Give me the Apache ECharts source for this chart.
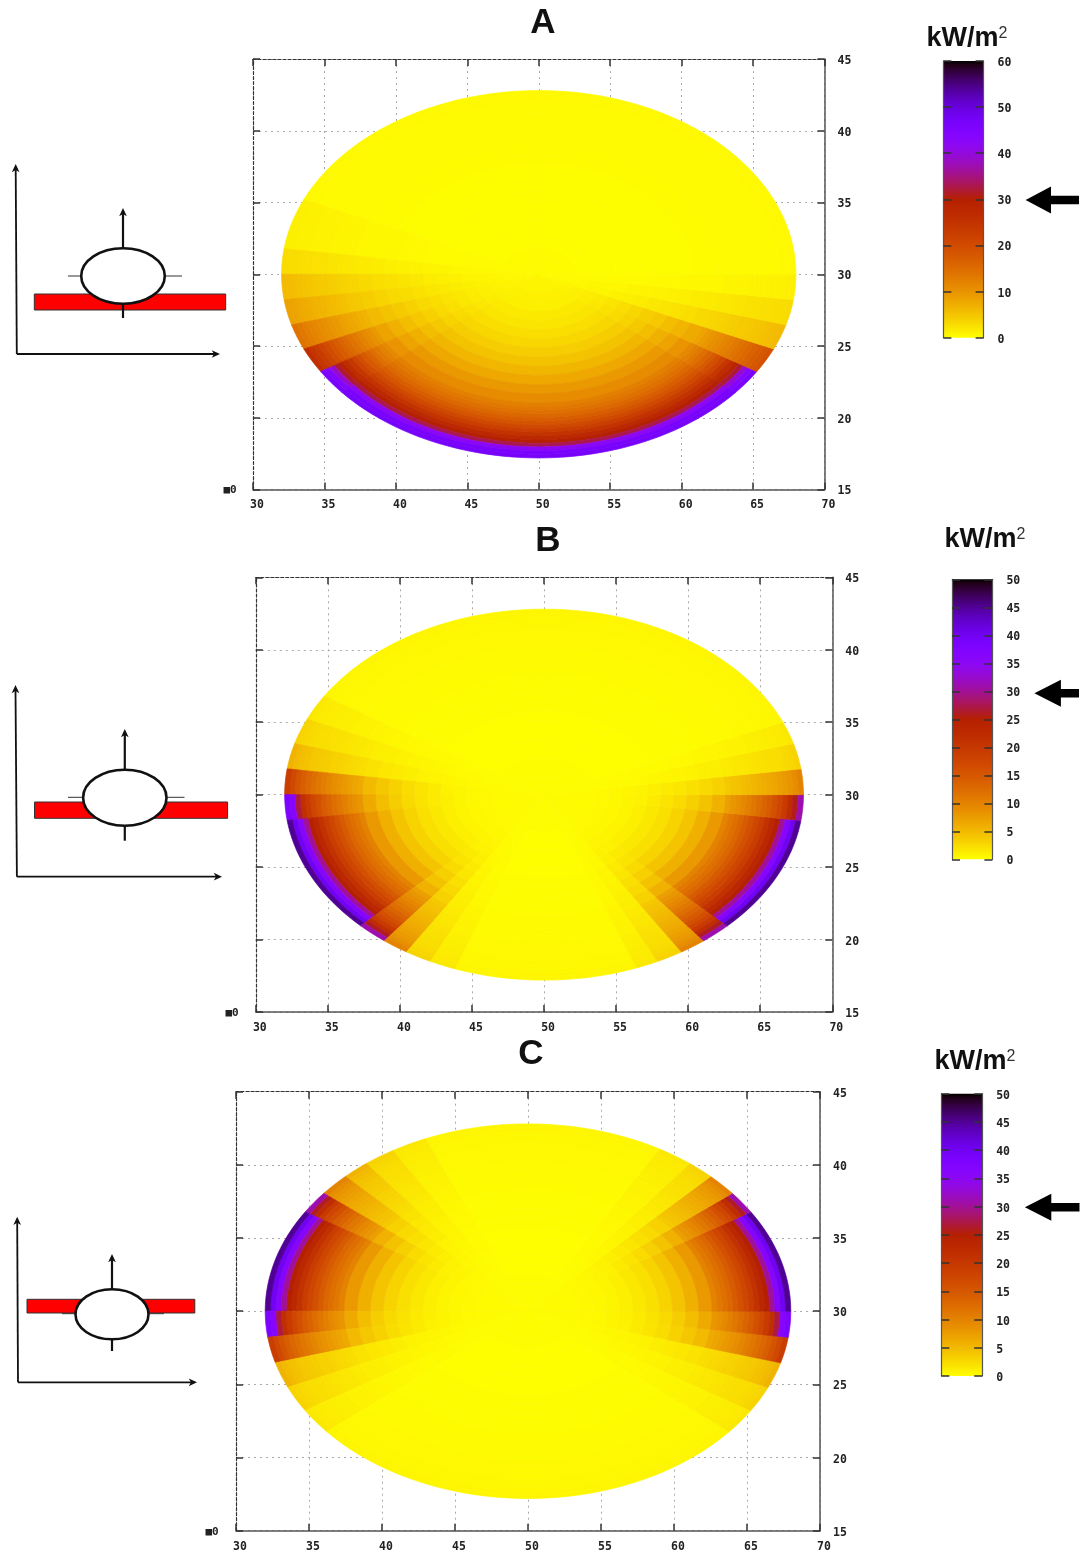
<!DOCTYPE html>
<html><head><meta charset="utf-8">
<style>html,body{margin:0;padding:0;background:#fff}#c{width:1083px;height:1555px}</style>
<script src="https://cdn.jsdelivr.net/npm/echarts@6/dist/echarts.min.js"></script>
</head><body><div id="c"></div>
<script>
// ---------- data ----------
const xTicks = [30,35,40,45,50,55,60,65,70];
const yTicks = [15,20,25,30,35,40,45];
const ringEdges = [0,.05,.1,.15,.2,.25,.3,.35,.4,.45,.5,.55,.6,.65,.7,.72,.74,.76,.78,.8,.82,.84,.86,.88,.9,.92,.94,.96,.98,1];
// flux (kW/m2) per ring, inner to wall
const fluxA = [
 [.8,.9,1.1,1.3,1.7,2.1,2.7,3.4,4.2,5.2,6.4,7.8,9.3,11,12.4,13.3,14.3,15.5,17,18.5,20.5,22.5,25,27.5,30,33,42,46,47],
 [.8,.9,1,1.2,1.5,1.9,2.4,3,3.7,4.6,5.7,7,8.4,10,11.4,12.3,13.3,14.5,16,17.5,19.5,21.5,24,26.5,29,32,39,44,46],
 [.7,.8,.9,1.1,1.3,1.6,2,2.5,3.1,3.8,4.7,5.7,6.9,8.3,9.5,10.3,11.1,12,13,14,15,16,17.2,18.5,20,21.5,23,24.5,26],
 [.6,.7,.8,1,1.2,1.5,1.8,2.2,2.7,3.2,3.8,4.5,5.2,6,6.6,7,7.4,7.9,8.3,8.8,9.3,9.8,10.3,10.8,11.3,11.9,12.5,13.2,14],
 [.5,.6,.7,.8,1,1.2,1.4,1.7,2,2.4,2.8,3.2,3.7,4.2,4.6,4.8,5,5.3,5.5,5.8,6.1,6.3,6.6,6.9,7.2,7.5,7.8,8.2,8.5],
 [.5,.5,.6,.7,.8,.9,1.1,1.3,1.5,1.8,2.1,2.4,2.7,3.1,3.4,3.5,3.7,3.8,4,4.2,4.4,4.5,4.7,4.9,5.1,5.3,5.5,5.8,6],
 [.5,.5,.5,.5,.6,.6,.7,.8,.9,1,1.1,1.3,1.4,1.6,1.7,1.8,1.9,2,2.1,2.2,2.3,2.4,2.4,2.5,2.6,2.7,2.8,2.9,3],
 [.4,.4,.4,.3,.3,.3,.3,.4,.4,.5,.5,.6,.6,.7,.7,.8,.8,.8,.9,.9,1,1,1,1,1.1,1.1,1.1,1.2,1.2],
 [.4,.3,.3,.2,.2,.2,.2,.2,.2,.2,.2,.2,.3,.3,.3,.3,.3,.3,.3,.3,.4,.4,.4,.4,.4,.4,.5,.5,.5],
 [.7,.8,.9,1.1,1.4,1.7,2.2,2.7,3.3,4,4.7,5.6,6.5,7.6,8.4,9,9.6,10.3,11,11.7,12.4,13.1,13.9,14.7,15.5,16.3,17.1,18,19]
];
const fluxBC = [
 [.3,.3,.3,.3,.4,.5,.7,1,1.5,2.1,3,4.2,5.8,7.8,10,11,12,13,14.5,16,17.5,19,21,23,25,30,36,40,45],
 [.3,.3,.3,.3,.4,.5,.7,1,1.4,1.9,2.6,3.5,4.7,6.3,8,8.7,9.5,10.3,11.2,12.2,13.3,14.5,16,17.5,19.5,21.5,27,36,38],
 [.3,.3,.3,.3,.4,.5,.7,.9,1.3,1.8,2.5,3.3,4.3,5.7,7.3,8,8.7,9.5,10.3,11.2,12.2,13.3,14.5,16,17.5,19.5,22,26,31],
 [.3,.3,.3,.3,.4,.5,.7,.9,1.3,1.8,2.4,3.1,4,5,6.3,6.8,7.3,7.8,8.4,9,9.7,10.4,11.2,12,13,14,15.4,17,19],
 [.3,.3,.3,.3,.4,.5,.6,.8,1,1.3,1.7,2.1,2.6,3.2,3.9,4.2,4.4,4.7,5,5.3,5.6,6,6.4,6.8,7.2,7.7,8.2,9,10],
 [.2,.2,.2,.3,.3,.4,.5,.6,.7,.9,1.1,1.3,1.6,1.9,2.3,2.4,2.6,2.7,2.9,3.1,3.2,3.4,3.6,3.8,4,4.3,4.6,5,5.5],
 [.2,.2,.2,.2,.2,.3,.3,.4,.5,.6,.7,.8,1,1.1,1.3,1.4,1.5,1.6,1.7,1.8,1.9,2,2.1,2.2,2.3,2.4,2.6,2.8,3],
 [.2,.2,.2,.2,.2,.2,.2,.3,.3,.3,.4,.4,.5,.6,.7,.7,.8,.8,.9,.9,1,1,1.1,1.1,1.2,1.2,1.3,1.4,1.5],
 [.2,.2,.2,.2,.1,.1,.1,.1,.1,.2,.2,.2,.2,.3,.3,.3,.3,.3,.3,.4,.4,.4,.4,.4,.5,.5,.5,.6,.6]
];
// sectors: start angle, end angle (degrees around the ellipse), row of the flux table
const sectorsA = [[90,156,8],[156,172,7],[172,180,6],[180,188,5],[188,196,4],[196,204,3],[204,212,2],[212,220,1],[220,320,0],[320,328,1],[328,336,9],[336,344,5],[344,352,6],[352,360,7],[360,450,8]];
const sectorsB = [[90,148,8],[148,156,7],[156,164,6],[164,172,5],[172,180,3],[180,188,1],[188,225,0],[225,232,2],[232,238,4],[238,244,6],[244,250,7],[250,291,8],[291,296,7],[296,302,6],[302,308,4],[308,315,2],[315,352,0],[352,360,2],[360,368,4],[368,376,6],[376,383,7],[383,450,8]];
const sectorsC = [[90,113,8],[113,121,7],[121,128,6],[128,134,5],[134,141,4],[141,148,2],[148,180,0],[180,188,1],[188,196,3],[196,204,5],[204,212,6],[212,220,7],[220,320,8],[320,328,7],[328,336,6],[336,344,5],[344,352,3],[352,360,1],[360,392,0],[392,399,2],[399,406,4],[406,412,6],[412,420,7],[420,450,8]];
const barTicksA = [0,10,20,30,40,50,60];
const barTicksBC = [0,5,10,15,20,25,30,35,40,45,50];
const ellipse = {cx:50, cy:30, a:18, b:12.8};

const panels = [
 {name:'A', flux:fluxA, sectors:sectorsA, max:60, tick:10, rect:[253,59,571.5,430.5], bar:[943.4,61,40.2,276.7], letter:[543,23], unit:[967,39], mark:[230,490],
  scheme:{vx0:15.7,vy0:164,vx1:16.8,vy1:354,hx1:220,cx:123,cy:276,rx:41.8,ry:27.8,upTop:208,downEnd:318,lx0:68,rx1:182,ly:276,bar:[34.3,294,191.4,16]}, arrow:[1025.6,1051,1079,200]},
 {name:'B', flux:fluxBC, sectors:sectorsB, max:50, tick:5, rect:[255.8,577.3,576.5,434.7], bar:[952,579.3,40.4,280], letter:[548,541], unit:[985,540], mark:[232,1013],
  scheme:{vx0:15.5,vy0:685,vx1:16.9,vy1:876.7,hx1:222,cx:124.8,cy:797.7,rx:41.7,ry:28,upTop:729,downEnd:840.7,lx0:68,rx1:184.5,ly:797.3,bar:[34.5,802,193.1,16.3]}, arrow:[1034.4,1060.9,1079,693.3]},
 {name:'C', flux:fluxBC, sectors:sectorsC, max:50, tick:5, rect:[236,1091.7,584,439], bar:[941.3,1093.7,40.9,282.3], letter:[531,1054], unit:[975,1061.7], mark:[212,1531.7],
  scheme:{vx0:17.2,vy0:1216.7,vx1:18,vy1:1382.3,hx1:197,cx:112,cy:1314.3,rx:36.5,ry:25,upTop:1254,downEnd:1351,lx0:62,rx1:164,ly:1313.7,bar:[27,1299.3,167.8,13.7]}, arrow:[1024.9,1051.3,1079.5,1207.3]}
];

// gnuplot-style palette, stops from low to high flux
function paletteStop(f){
  const x = 1 - f, r = Math.sqrt(x), g = x*x*x, b = Math.max(0, Math.sin(2*Math.PI*x));
  return 'rgb(' + Math.round(r*255) + ',' + Math.round(g*255) + ',' + Math.round(b*255) + ')';
}
const paletteColors = []; for (let i=0;i<=80;i++) paletteColors.push(paletteStop(i/80));

const MONO = '"DejaVu Sans Mono"';
const labelStyle = {fontFamily:MONO, fontWeight:'bold', fontSize:11.5, color:'#222'};
const tickStyle = {color:'#333', width:1.5};
const grids=[], xAxes=[], yAxes=[], series=[], visualMaps=[], graphics=[];

function renderCell(params, api){
  const t0=api.value(0), t1=api.value(1), r0=api.value(2), r1=api.value(3);
  const pts=[], n=Math.max(1,Math.ceil((t1-t0)/2));
  const at=(r,t)=>api.coord([ellipse.cx+ellipse.a*r*Math.cos(t*Math.PI/180), ellipse.cy+ellipse.b*r*Math.sin(t*Math.PI/180)]);
  for(let i=0;i<=n;i++) pts.push(at(r1,t0+(t1-t0)*i/n));
  for(let i=n;i>=0;i--) pts.push(at(r0,t0+(t1-t0)*i/n));
  const col=api.visual('color');
  return {type:'polygon', shape:{points:pts}, style:{fill:col, stroke:col, lineWidth:0.7}};
}
function renderBar(max, colors){
  return function(params, api){
    const a=api.coord([0,api.value(0)]), b=api.coord([1,api.value(1)]);
    const stops=colors.map((c,i)=>({offset:1-i/(colors.length-1), color:c}));
    return {type:'rect', shape:{x:a[0], y:b[1], width:b[0]-a[0], height:a[1]-b[1]},
      style:{fill:new echarts.graphic.LinearGradient(0,0,0,1,stops)}};
  };
}
function arrowHead(x,y,dir,size){
  const s=size||5, w=s*0.7;
  let p;
  if(dir==='up') p=[[x,y],[x-w,y+s*1.5],[x,y+s*1.1],[x+w,y+s*1.5]];
  else p=[[x,y],[x-s*1.5,y-w],[x-s*1.1,y],[x-s*1.5,y+w]];
  return {type:'polygon', shape:{points:p}, style:{fill:'#111'}, z:20};
}
function line(x0,y0,x1,y1,w,c){
  return {type:'line', shape:{x1:x0,y1:y0,x2:x1,y2:y1}, style:{stroke:c||'#111', lineWidth:w||2}, z:19};
}

panels.forEach((p,i)=>{
  const [l,t,w,h]=p.rect;
  const g=grids.length;
  grids.push({left:l, top:t, width:w, height:h, outerBoundsMode:'none'});
  const xi=xAxes.length, yi=yAxes.length;
  const dotted={show:true, lineStyle:{color:'#aaa', type:[2,4], width:1}};
  xAxes.push({gridIndex:g, type:'value', position:'bottom', min:30, max:70, interval:5, z:0,
    axisLine:{show:true, onZero:false, lineStyle:{color:'#555', width:1.5}},
    axisTick:{show:true, inside:true, length:7, lineStyle:tickStyle},
    axisLabel:{show:true, margin:10, padding:[0,0,0,8], showMinLabel:true, showMaxLabel:true, ...labelStyle}, splitLine:dotted});
  xAxes.push({gridIndex:g, type:'value', position:'top', min:30, max:70, interval:5, z:0,
    axisLine:{show:true, onZero:false, lineStyle:{color:'#333', type:[3,2], width:1.2}},
    axisTick:{show:true, inside:true, length:7, lineStyle:tickStyle},
    axisLabel:{show:false}, splitLine:{show:false}});
  yAxes.push({gridIndex:g, type:'value', position:'right', min:15, max:45, interval:5, z:0,
    axisLine:{show:true, onZero:false, lineStyle:{color:'#555', width:1.5}},
    axisTick:{show:true, inside:true, length:7, lineStyle:tickStyle},
    axisLabel:{show:true, margin:13, verticalAlign:'top', padding:[-4,0,0,0], showMinLabel:true, showMaxLabel:true, ...labelStyle}, splitLine:dotted});
  yAxes.push({gridIndex:g, type:'value', position:'left', min:15, max:45, interval:5, z:0,
    axisLine:{show:true, onZero:false, lineStyle:{color:'#333', type:[3,2], width:1.2}},
    axisTick:{show:true, inside:true, length:7, lineStyle:tickStyle},
    axisLabel:{show:false}, splitLine:{show:false}});
  const cells=[];
  p.sectors.forEach(s=>{
    const row=p.flux[s[2]];
    row.forEach((v,k)=>cells.push([s[0],s[1],ringEdges[k],ringEdges[k+1],v]));
  });
  const si=series.length;
  series.push({type:'custom', name:'Panel '+p.name, xAxisIndex:xi, yAxisIndex:yi, coordinateSystem:'cartesian2d',
    encode:{x:0,y:2}, data:cells, renderItem:renderCell, clip:false, z:5, silent:true, animation:false});
  visualMaps.push({show:false, type:'continuous', seriesIndex:si, dimension:4, min:0, max:p.max, inRange:{color:paletteColors}});

  // colour bar
  const [bl,bt,bw,bh]=p.bar;
  const gb=grids.length;
  grids.push({left:bl, top:bt, width:bw, height:bh, outerBoundsMode:'none'});
  const xb=xAxes.length, yb=yAxes.length;
  xAxes.push({gridIndex:gb, type:'value', min:0, max:1, show:false});
  const barTicks=p.max===60?barTicksA:barTicksBC;
  const barMax=barTicks[barTicks.length-1];
  yAxes.push({gridIndex:gb, type:'value', position:'right', min:barTicks[0], max:barMax, interval:p.tick, z:6,
    axisLine:{show:true, onZero:false, lineStyle:{color:'#555',width:1.2}},
    axisTick:{show:true, inside:true, length:8, lineStyle:tickStyle},
    axisLabel:{show:true, margin:14, verticalAlign:'top', padding:[-4,0,0,0], showMinLabel:true, showMaxLabel:true, ...labelStyle}, splitLine:{show:false}});
  yAxes.push({gridIndex:gb, type:'value', position:'left', min:barTicks[0], max:barMax, interval:p.tick, z:6,
    axisLine:{show:true, onZero:false, lineStyle:{color:'#555',width:1.2}},
    axisTick:{show:true, inside:true, length:8, lineStyle:tickStyle},
    axisLabel:{show:false}, splitLine:{show:false}});
  series.push({type:'custom', name:'Scale '+p.name, xAxisIndex:xb, yAxisIndex:yb, coordinateSystem:'cartesian2d',
    encode:{y:[0,1]}, data:[[barTicks[0],barMax]], renderItem:renderBar(p.max,paletteColors), z:1, silent:true, animation:false});

  // texts
  graphics.push({type:'text', x:p.letter[0], y:p.letter[1], style:{text:p.name, font:'bold 35px "Liberation Sans"', fill:'#111', textAlign:'center', textVerticalAlign:'middle'}, z:20});
  graphics.push({type:'text', x:p.unit[0], y:p.unit[1], style:{text:'{a|kW/m}{b|2}', textAlign:'center', textVerticalAlign:'middle',
    rich:{a:{font:'bold 27px "Liberation Sans"', fill:'#111', verticalAlign:'bottom'}, b:{font:'16px "Liberation Sans"', fill:'#333', verticalAlign:'top', padding:[0,0,8,0]}}}, z:20});
  graphics.push({type:'text', x:p.mark[0], y:p.mark[1], style:{text:'■0', font:'bold 11px '+MONO, fill:'#222', textAlign:'center', textVerticalAlign:'middle'}, z:20});

  // big pointer arrow
  const a=p.arrow;
  graphics.push({type:'polygon', shape:{points:[[a[0],a[3]],[a[1],a[3]-13.5],[a[1],a[3]-4.3],[a[2],a[3]-4.3],[a[2],a[3]+4.3],[a[1],a[3]+4.3],[a[1],a[3]+13.5]]}, style:{fill:'#000'}, z:20});

  // schematic
  const s=p.scheme;
  graphics.push({type:'rect', shape:{x:s.bar[0],y:s.bar[1],width:s.bar[2],height:s.bar[3]}, style:{fill:'#ff0000',stroke:'#333',lineWidth:1}, z:15});
  graphics.push(line(s.vx0,s.vy0+5,s.vx1,s.vy1,1.8));
  graphics.push(line(s.vx1,s.vy1,s.hx1-5,s.vy1,1.8));
  graphics.push(arrowHead(s.vx0,s.vy0,'up',5.5));
  graphics.push(arrowHead(s.hx1,s.vy1,'right',5.5));
  graphics.push(line(s.cx,s.cy-s.ry,s.cx,s.upTop+5,2.2));
  graphics.push(arrowHead(s.cx,s.upTop,'up',5.5));
  graphics.push(line(s.cx,s.cy+s.ry,s.cx,s.downEnd,2.2));
  graphics.push(line(s.lx0,s.ly,s.cx-s.rx,s.ly,1,'#333'));
  graphics.push(line(s.cx+s.rx,s.ly,s.rx1,s.ly,1,'#333'));
  graphics.push({type:'ellipse', shape:{cx:s.cx,cy:s.cy,rx:s.rx,ry:s.ry}, style:{fill:'#fff',stroke:'#111',lineWidth:2.6}, z:21});
});

const chart = echarts.init(document.getElementById('c'), null, {renderer:'canvas', width:1083, height:1555});
chart.setOption({
  animation:false, backgroundColor:'#fff',
  grid:grids, xAxis:xAxes, yAxis:yAxes, visualMap:visualMaps, series:series, graphic:{elements:graphics}
});
</script></body></html>
